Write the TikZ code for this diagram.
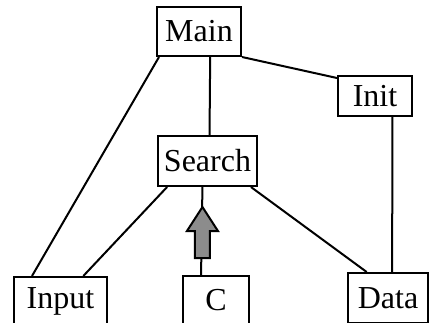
\documentclass[tikz,border=0pt]{standalone}
\usepackage{fontspec}
\setmainfont{Liberation Serif}
\usetikzlibrary{calc}
\begin{document}
\begin{tikzpicture}[x=1pt,y=-1pt,
  box/.style={draw,line width=2pt,fill=white,inner sep=0pt,font=\fontsize{32}{34}\selectfont},
  link/.style={line width=2pt}]
\useasboundingbox (0,0) rectangle (433,322);
\clip (0,0) rectangle (433,322);
\fill[white] (0,0) rectangle (433,322);
\node[box,minimum width=84pt,minimum height=49pt] (main) at (199,31.5) {Main};
\node[box,minimum width=99pt,minimum height=50pt] (search) at (207.5,161) {Search};
\node[box,minimum width=74pt,minimum height=40pt] (init) at (375,96) {Init};
\node[box,minimum width=66pt,minimum height=48pt] (c) at (216,300) {C};
\node[box,minimum width=93pt,minimum height=48pt] (input) at (60.5,301) {Input};
\node[box,minimum width=80pt,minimum height=50pt] (data) at (388,298) {Data};
\draw[link] ($(main.south west)+(3,0)$) -- ($(input.north west)!0.2!(input.north east)$);
\draw[link] ($(main.south west)!0.63!(main.south east)$) -- ($(search.north west)!0.52!(search.north east)$);
\draw[link] (main.south east) -- ($(init.north west)+(0,3)$);
\draw[link] ($(init.south west)!0.73!(init.south east)$) -- ($(data.north west)!0.55!(data.north east)$);
\draw[link] ($(search.south west)!0.1!(search.south east)$) -- ($(input.north west)!0.74!(input.north east)$);
\draw[link] ($(search.south west)!0.93!(search.south east)$) -- ($(data.north west)!0.24!(data.north east)$);
\coordinate (s1) at ($(search.south west)!0.45!(search.south east)$);
\coordinate (c1) at ($(c.north west)!0.28!(c.north east)$);
\draw[link] (s1) -- (c1);
\coordinate (tip) at ($(s1)+(0,20)$);
\draw[line width=2pt,fill=gray!90,line join=miter]
  (tip) -- ++(15.5,24) -- ++(-8,0) -- ++(0,27) -- ++(-15,0) -- ++(0,-27) -- ++(-8,0) -- cycle;
\end{tikzpicture}
\end{document}
